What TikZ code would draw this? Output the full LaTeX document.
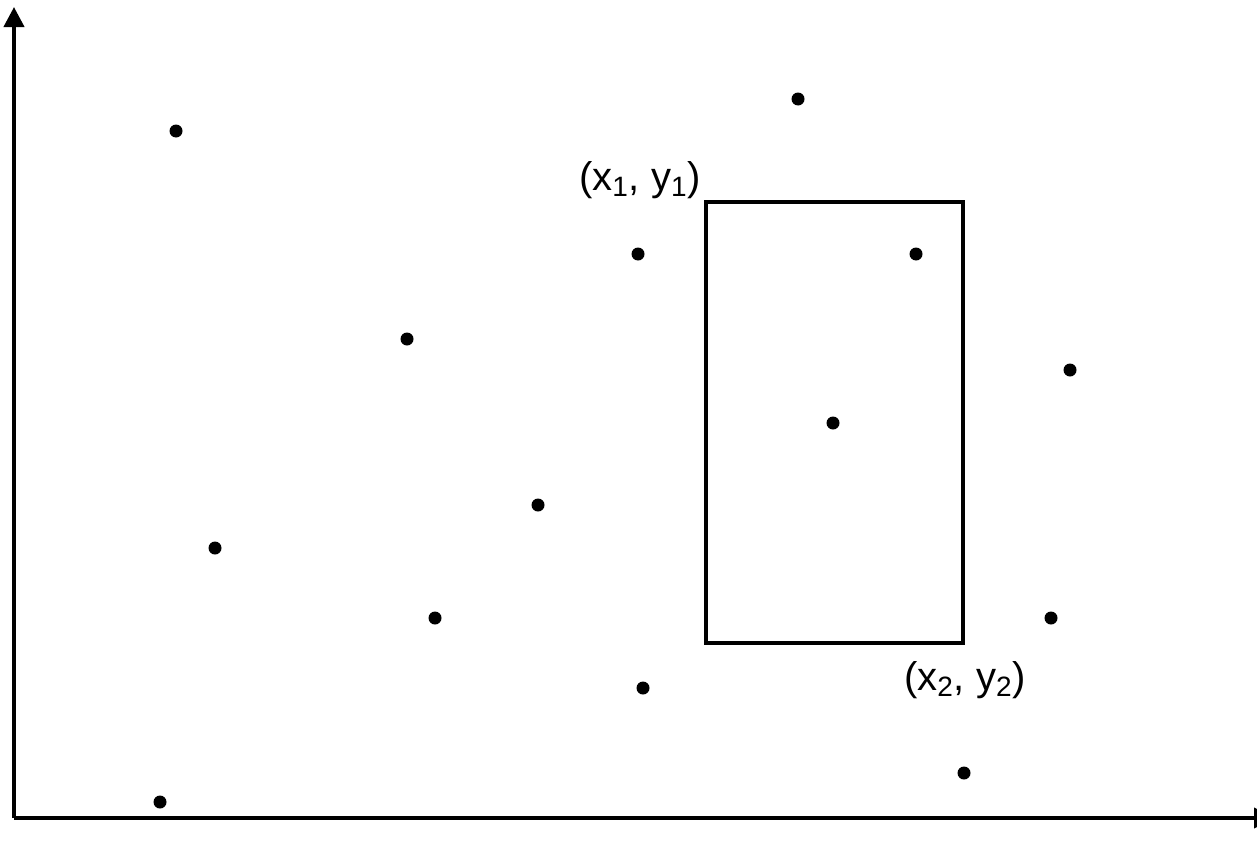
\documentclass[tikz,border=0pt]{standalone}
\usepackage{fontspec}
\setmainfont{Liberation Sans}
\usepackage{tikz}
\usetikzlibrary{calc,positioning}
\usetikzlibrary{arrows.meta}

\tikzset{
	pt/.style={circle,fill=black,inner sep=0pt,minimum size=6.5pt},
	lbl/.style={font=\fontsize{20}{23}\selectfont,inner sep=1pt},
	axis/.style={line width=2pt,-{Triangle[length=10pt,width=10pt]}}
}

\begin{document}
\begin{tikzpicture}[x=0.5pt,y=-0.5pt]
				 %\draw[color=gray,step=10, help lines,opacity=0.3] (0,0) grid (1257,846); %help grids
				\useasboundingbox (0,0) rectangle (1257,846);
				\coordinate (o) at (14,818);
				\coordinate (ytop) at (14,7);
				\coordinate (xend) at (1274,818);
				\draw[axis] (o)--(ytop);
				\draw[axis] (o)--(xend);
				% the points
				\node[pt] (p1) at (176,131) {};
				\node[pt] (p2) at (798,99) {};
				\node[pt] (p3) at (638,254) {};
				\node[pt] (p4) at (916,254) {};
				\node[pt] (p5) at (407,339) {};
				\node[pt] (p6) at (1070,370) {};
				\node[pt] (p7) at (833,423) {};
				\node[pt] (p8) at (538,505) {};
				\node[pt] (p9) at (215,548) {};
				\node[pt] (p10) at (435,618) {};
				\node[pt] (p11) at (1051,618) {};
				\node[pt] (p12) at (643,688) {};
				\node[pt] (p13) at (964,773) {};
				\node[pt] (p14) at (160,802) {};
				% the query box
				\coordinate (c1) at (706,202);
				\coordinate (c2) at (963,643);
				\draw[line width=2pt] (c1) rectangle (c2);
				\node[lbl] (l1) at (640,180) {(x\textsubscript{1}, y\textsubscript{1})};
				\node[lbl] (l2) at (965,680) {(x\textsubscript{2}, y\textsubscript{2})};
\end{tikzpicture}
\end{document}
